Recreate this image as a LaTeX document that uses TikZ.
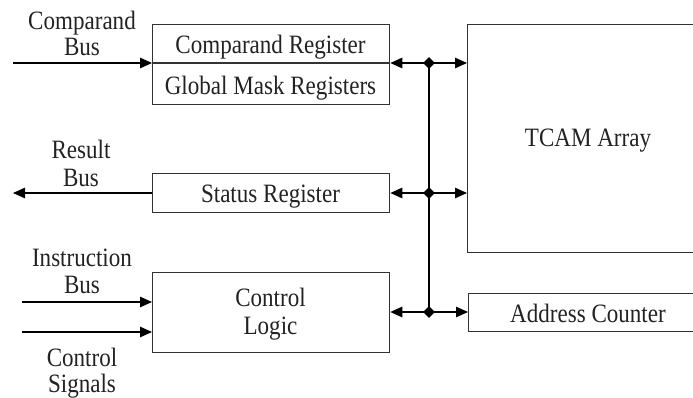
\documentclass[tikz,border=0pt]{standalone}
\usepackage{fontspec}
\setmainfont{Liberation Serif}[FakeStretch=0.87]
\usetikzlibrary{arrows.meta,shapes.geometric}
\definecolor{linec}{HTML}{333333}
\definecolor{textc}{HTML}{222222}
\begin{document}
\begin{tikzpicture}[x=1pt,y=-1pt,
  box/.style={draw=linec, line width=1.3pt, inner sep=0pt, anchor=north west},
  lbl/.style={anchor=base, inner sep=0pt, font=\fontsize{26.5}{26.5}\selectfont, text=textc},
  wire/.style={draw=black, line width=1.2pt},
  tip/.style={wire, -{Triangle[length=12pt,width=10.5pt]}},
  dot/.style={diamond, fill=black, inner sep=0pt, minimum width=12pt, minimum height=12pt}]
\useasboundingbox (0,0) rectangle (693,398);
\clip (0,0) rectangle (693,398);

% boxes
\node[box, minimum width=237pt, minimum height=80pt] (creg) at (152,24) {};
\node[box, minimum width=237pt, minimum height=39pt] (stat) at (152,173) {};
\node[box, minimum width=237pt, minimum height=80pt] (ctrl) at (152,272) {};
\node[box, minimum width=241pt, minimum height=228pt] (tcam) at (467,24) {};
\node[box, minimum width=240pt, minimum height=38pt] (addr) at (468,293) {};

% divider
\coordinate (divl) at (152,63);
\draw[draw=linec, line width=1.3pt] (divl) -- (divl -| creg.east);

% texts in boxes
\node[lbl] (t1) at (270.5,54) {Comparand Register};
\node[lbl] (t2) at (270.5,95) {Global Mask Registers};
\node[lbl] (t3) at (270.5,203) {Status Register};
\node[lbl] (t4) at (270.5,306) {Control};
\node[lbl] (t5) at (270.5,334) {Logic};
\node[lbl] (t6) at (588,147) {TCAM Array};
\node[lbl] (t7) at (588,322) {Address Counter};

% left labels
\node[lbl] (l1) at (82,30) {Comparand};
\node[lbl] (l2) at (82,56) {Bus};
\node[lbl] (l3) at (81,159) {Result};
\node[lbl] (l4) at (81,186) {Bus};
\node[lbl] (l5) at (82,266) {Instruction};
\node[lbl] (l6) at (82,293) {Bus};
\node[lbl] (l7) at (82,366) {Control};
\node[lbl] (l8) at (82,392) {Signals};

% bus junctions
\node[dot] (d1) at (429,63) {};
\node[dot] (d2) at (429,193) {};
\node[dot] (d3) at (429,312) {};
\draw[wire] (d1.center) -- (d3.center);
\draw[tip] (d1.center) -- (d1.center -| creg.east);
\draw[tip] (d1.center) -- (d1.center -| tcam.west);
\draw[tip] (d2.center) -- (d2.center -| stat.east);
\draw[tip] (d2.center) -- (d2.center -| tcam.west);
\draw[tip] (d3.center) -- (d3.center -| ctrl.east);
\draw[tip] (d3.center) -- (d3.center -| addr.west);

% external buses
\coordinate (cb) at (13,63);
\coordinate (rb) at (13,193);
\coordinate (ib) at (22,302);
\coordinate (cs) at (22,332);
\draw[tip] (cb) -- (cb -| creg.west);
\draw[tip] (rb -| stat.west) -- (rb);
\draw[tip] (ib) -- (ib -| ctrl.west);
\draw[tip] (cs) -- (cs -| ctrl.west);
\end{tikzpicture}
\end{document}
